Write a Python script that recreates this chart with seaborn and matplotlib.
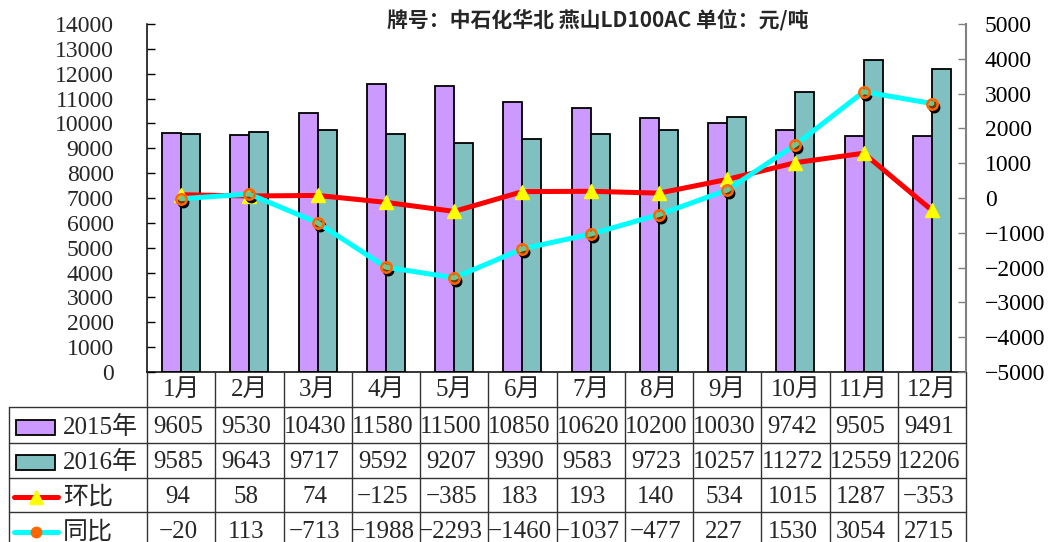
import numpy as np
import pandas as pd
import matplotlib
matplotlib.use('Agg')
import matplotlib.pyplot as plt
import seaborn as sns
from matplotlib.lines import Line2D
from matplotlib.patches import Rectangle
from matplotlib import transforms as mtrans

# ---------------- data ----------------
months = ['1月', '2月', '3月', '4月', '5月', '6月', '7月', '8月', '9月', '10月', '11月', '12月']
y2015 = [9605, 9530, 10430, 11580, 11500, 10850, 10620, 10200, 10030, 9742, 9505, 9491]
y2016 = [9585, 9643, 9717, 9592, 9207, 9390, 9583, 9723, 10257, 11272, 12559, 12206]
huanbi = [94, 58, 74, -125, -385, 183, 193, 140, 534, 1015, 1287, -353]
tongbi = [-20, 113, -713, -1988, -2293, -1460, -1037, -477, 227, 1530, 3054, 2715]
series_names = ['2015年', '2016年', '环比', '同比']
title = '牌号：中石化华北 燕山LD100AC 单位：元/吨'
left_ticks = list(range(0, 14001, 1000))
right_ticks = list(range(-5000, 5001, 1000))

# ---------------- style ----------------
W, H = 1053, 542
sns.set_theme(style='white')
plt.rcParams['font.family'] = ['Liberation Serif', 'Noto Sans CJK SC', 'DejaVu Sans']
plt.rcParams['axes.unicode_minus'] = True

C15, C16 = '#CC99FF', '#80C0C0'
RED, CYAN = '#FF0000', '#00FFFF'
GRID = '#333333'

fig = plt.figure(figsize=(W / 100, H / 100), dpi=100)
L, R, T, B = 147, 966, 24, 372
ax = fig.add_axes([L / W, 1 - B / H, (R - L) / W, (B - T) / H])

df = pd.DataFrame({
    'month': months * 2,
    'value': y2015 + y2016,
    'year': [series_names[0]] * 12 + [series_names[1]] * 12,
})
sns.barplot(data=df, x='month', y='value', hue='year', order=months,
            hue_order=series_names[:2], palette=[C15, C16], saturation=1,
            width=0.56, edgecolor='black', linewidth=1.3, ax=ax, legend=False)
ax.set_xlim(-0.5, 11.5)
ax.set_ylim(0, 14000)
ax.set_xticks([])
ax.set_xlabel('')
ax.set_ylabel('')
ax.set_yticks(left_ticks)
ax.tick_params(axis='y', direction='in', length=6, width=1, color='black',
               labelsize=17, pad=24, left=True)
for s in ['top', 'right']:
    ax.spines[s].set_visible(False)
ax.spines['left'].set_color('black')
ax.spines['left'].set_linewidth(1.1)
ax.spines['bottom'].set_color('black')
ax.spines['bottom'].set_linewidth(1.1)

ax2 = ax.twinx()
ax2.set_ylim(-5000, 5000)
ax2.set_yticks(right_ticks)
ax2.tick_params(axis='y', direction='in', length=6, width=1, color='#808080',
                labelcolor='black', labelsize=17, pad=13.5, right=True)
for s in ['top', 'left', 'bottom']:
    ax2.spines[s].set_visible(False)
ax2.spines['right'].set_color('#808080')
ax2.spines['right'].set_linewidth(1.5)
ax2.grid(False)
ax.grid(False)

x = np.arange(len(months))
ax2.plot(x, huanbi, color=RED, lw=3.6, marker='^', ms=9.5,
         mfc='#FFFF00', mec='#FFFF00', zorder=3)
shadow = mtrans.offset_copy(ax2.transData, fig=fig, x=2, y=-3, units='dots')
ax2.plot(x, tongbi, transform=shadow, ls='none', marker='o', ms=7.5,
         mfc='black', mec='black', zorder=3.5)
ax2.plot(x, tongbi, color=CYAN, lw=3.6, marker='o', ms=7.5,
         mfc=(1.0, 0.5, 0.0, 0.45), mec='#FF6600', mew=1.8, zorder=4)

# ---------------- title ----------------
fig.text(598 / W, 1 - 20 / H, title, ha='center', va='center', fontsize=15,
         fontweight='bold', family=['Noto Sans CJK SC', 'DejaVu Sans'])

# ---------------- data table ----------------
ID = mtrans.IdentityTransform()
col_x = [ax.transData.transform((i - 0.5, 0))[0] for i in range(len(months) + 1)]
row_y = [372, 407, 443, 478, 512, 548]
TL = 9

def hline(y, x0, x1):
    fig.add_artist(Line2D([x0, x1], [H - y, H - y], transform=ID, color=GRID, lw=1.0))

def vline(xp, y0, y1):
    fig.add_artist(Line2D([xp, xp], [H - y0, H - y1], transform=ID, color=GRID, lw=1.0))

for yy in row_y[1:5]:
    hline(yy, TL, col_x[-1])
for xp in col_x:
    vline(xp, 372, H + 5)
vline(TL, 407, H + 5)

# category labels
for i, m in enumerate(months):
    cx = (col_x[i] + col_x[i + 1]) / 2
    fig.text(cx, H - 390, m, transform=ID, ha='center', va='center', fontsize=18)

rows = [y2015, y2016, huanbi, tongbi]
for r, vals in enumerate(rows):
    cy = (row_y[r + 1] + row_y[r + 2]) / 2 + 2
    for i, v in enumerate(vals):
        cx = (col_x[i] + col_x[i + 1]) / 2 - 3
        fig.text(cx, H - cy, str(v).replace('-', '\u2212'), transform=ID,
                 ha='center', va='center', fontsize=18)
    # legend key
    fig.text(63, H - cy, series_names[r], transform=ID, ha='left', va='center', fontsize=18)
    if r < 2:
        fig.add_artist(Rectangle((16, H - cy - 7.5), 39, 15, transform=ID,
                                 facecolor=[C15, C16][r], edgecolor='black', lw=1.3))
    elif r == 2:
        fig.add_artist(Line2D([14, 58], [H - cy, H - cy], transform=ID, color=RED, lw=3.6))
        fig.add_artist(Line2D([36], [H - cy], transform=ID, ls='none', marker='^', ms=9.5,
                              mfc='#FFFF00', mec='#FFFF00'))
    else:
        fig.add_artist(Line2D([14, 58], [H - cy, H - cy], transform=ID, color=CYAN, lw=3.6))
        fig.add_artist(Line2D([36], [H - cy], transform=ID, ls='none', marker='o', ms=7.5,
                              mfc='#FF6600', mec='#FF6600'))

fig.savefig('out.png', dpi=100)
